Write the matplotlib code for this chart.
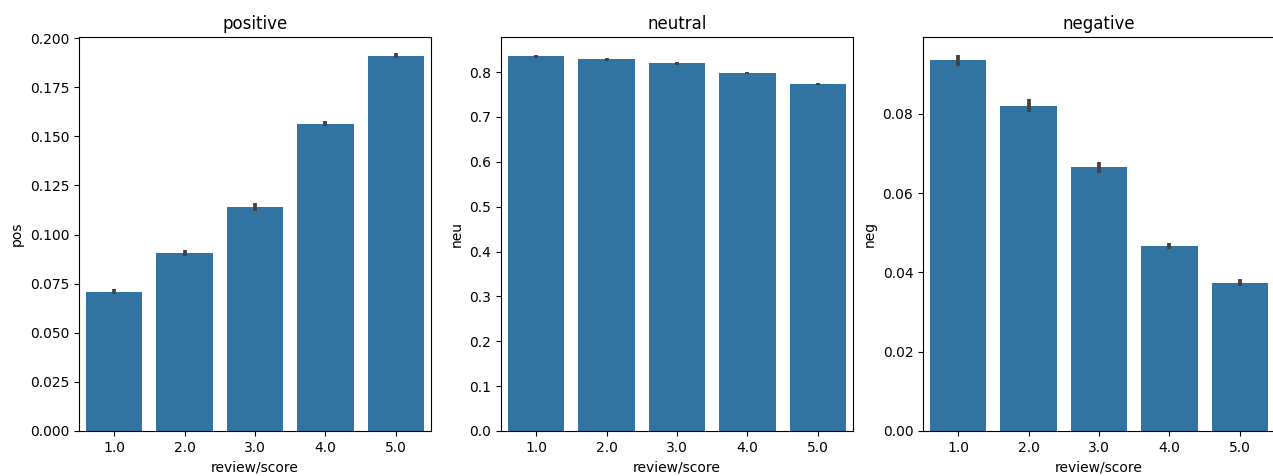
import matplotlib
matplotlib.use("Agg")
import matplotlib.pyplot as plt
import numpy as np

# Média por nota (review/score) com IC aproximado
scores = ["1.0", "2.0", "3.0", "4.0", "5.0"]

pos_mean = [0.0710, 0.0905, 0.1140, 0.1565, 0.1910]
pos_err = [0.0013, 0.0014, 0.0019, 0.0014, 0.0012]

neu_mean = [0.835, 0.828, 0.819, 0.798, 0.773]
neu_err = [0.003, 0.003, 0.003, 0.003, 0.003]

neg_mean = [0.0935, 0.0821, 0.0665, 0.0467, 0.0374]
neg_err = [0.0013, 0.0016, 0.0014, 0.0008, 0.0009]

BAR_COLOR = "#3274a1"
ERR_COLOR = "#424242"

painels = [
    ("positive", "pos", pos_mean, pos_err, 0.2006, [0.0, 0.025, 0.05, 0.075, 0.1, 0.125, 0.15, 0.175, 0.2], "{:.3f}"),
    ("neutral", "neu", neu_mean, neu_err, 0.878, [0.0, 0.1, 0.2, 0.3, 0.4, 0.5, 0.6, 0.7, 0.8], "{:.1f}"),
    ("negative", "neg", neg_mean, neg_err, 0.0994, [0.0, 0.02, 0.04, 0.06, 0.08], "{:.2f}"),
]
lefts = [79, 501, 923]

fig = plt.figure(figsize=(12.73, 4.76), dpi=100)
W, H = 1273, 476
for (titulo, ylab, vals, errs, ytop, ticks, fmt), left in zip(painels, lefts):
    ax = fig.add_axes([left / W, (H - 431) / H, 352 / W, 394 / H])
    x = np.arange(len(scores))
    ax.bar(x, vals, width=0.8, color=BAR_COLOR)
    for xi, v, e in zip(x, vals, errs):
        ax.plot([xi, xi], [v - e, v + e], color=ERR_COLOR, linewidth=2.7,
                solid_capstyle="butt")
    ax.set_xlim(-0.5, len(scores) - 0.5)
    ax.set_ylim(0, ytop)
    ax.set_xticks(x)
    ax.set_xticklabels(scores)
    ax.set_yticks(ticks)
    ax.set_yticklabels([fmt.format(t) for t in ticks])
    ax.set_xlabel("review/score")
    ax.set_ylabel(ylab)
    ax.set_title(titulo)

fig.savefig("out.png", dpi=100)
